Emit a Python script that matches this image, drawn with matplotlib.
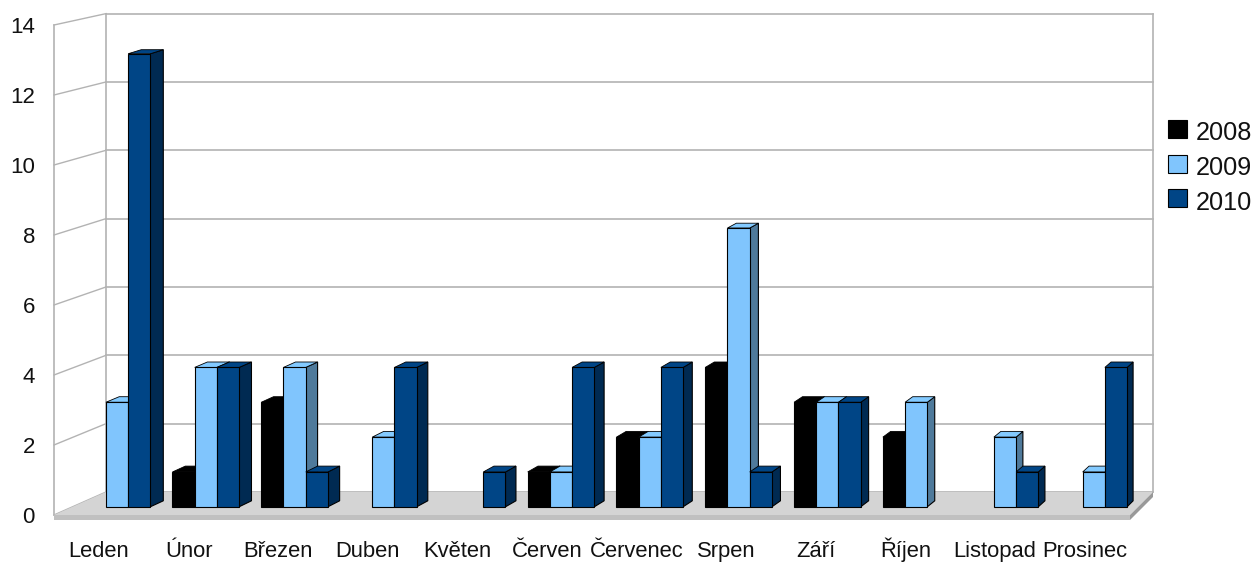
import matplotlib
matplotlib.use("Agg")
import matplotlib.pyplot as plt
from matplotlib.patches import Polygon

plt.rcParams['font.family'] = ['Liberation Sans', 'DejaVu Sans']

months = ["Leden", "Únor", "Březen", "Duben", "Květen", "Červen", "Červenec",
          "Srpen", "Září", "Říjen", "Listopad", "Prosinec"]
years = ["2008", "2009", "2010"]
v2008 = [0, 1, 3, 0, 0, 1, 2, 4, 3, 2, 0, 0]
v2009 = [3, 4, 4, 2, 0, 1, 2, 8, 3, 3, 2, 1]
v2010 = [13, 4, 1, 4, 1, 4, 4, 1, 3, 0, 1, 4]
y_ticks = [0, 2, 4, 6, 8, 10, 12, 14]

W, H = 1256, 563
X0, XU = 117.0, 88.8     # pixel of first group centre, pixels per category
Y0, YU = 506.8, 34.85    # pixel of value 0 on the bar front, pixels per unit

fig = plt.figure(figsize=(W / 100, H / 100), dpi=100)
ax = fig.add_axes([0, 0, 1, 1])
ax.set_xlim((0 - X0) / XU, (W - X0) / XU)
ax.set_ylim((Y0 - H) / YU, Y0 / YU)
ax.axis("off")

def dx(px):
    return px / XU

def dy(px):
    return px / YU

GRID = "#b3b3b3"
TEXT = "#111111"
x_left = dx(54 - X0)
x_back_l = dx(106 - X0)
x_back_r = dx(1153 - X0)
x_front_r = dx(1130 - X0)

def y_back(v):
    return dy(Y0 - 492) + v * 34.17 / YU

def y_side(v):
    return dy(Y0 - 515) + v * 35.0 / YU

# walls and grid
for v in y_ticks:
    ax.plot([x_back_l, x_back_r], [y_back(v), y_back(v)], color=GRID, lw=1.2, zorder=1)
    ax.plot([x_left, x_back_l], [y_side(v), y_back(v)], color=GRID, lw=1.0, zorder=1)
    ax.text(dx(35 - X0), y_side(v) - dy(8), str(v), ha="right", va="baseline",
            fontsize=16, color=TEXT, zorder=5)
for xx, fn in ((x_left, y_side), (x_back_l, y_back), (x_back_r, y_back)):
    ax.plot([xx, xx], [fn(0), fn(14)], color=GRID, lw=1.2, zorder=1)

# floor slab
t = dy(5)
ax.add_patch(Polygon([(x_left, y_side(0)), (x_back_l, y_back(0)), (x_back_r, y_back(0)),
                      (x_front_r, y_side(0))], closed=True, fc="#d4d4d4", ec="none", zorder=2))
ax.add_patch(Polygon([(x_left, y_side(0)), (x_front_r, y_side(0)),
                      (x_front_r, y_side(0) - t), (x_left, y_side(0) - t)],
                     closed=True, fc="#c0c0c0", ec="none", zorder=2))
ax.add_patch(Polygon([(x_front_r, y_side(0)), (x_back_r, y_back(0)),
                      (x_back_r, y_back(0) - t), (x_front_r, y_side(0) - t)],
                     closed=True, fc="#999999", ec="none", zorder=2))

# bars
series = [v2008, v2009, v2010]
faces = ["#000000", "#80c5fd", "#004586"]
sides = ["#000000", "#4f7a9b", "#002a52"]
tops = ["#000000", "#83caff", "#004586"]
bw = 22.2 / XU

def depth(x):
    # perspective: visible depth of a bar narrows towards the right
    px = x * XU + X0
    return dx(13 - 7 * (px - 151) / 976)

def back_h(v):
    # rise of the rear edge above the front edge shrinks slightly with height
    return dy(6 - v * 0.15)

z = 3.0
for i in range(len(months)):
    for j, vals in enumerate(series):
        v = vals[i]
        if v == 0:
            continue
        l = i + (j - 1) * bw - bw / 2
        r = l + bw
        dl, dr = depth(l), depth(r)
        ax.add_patch(Polygon([(r, 0), (r + dr, back_h(0)), (r + dr, v + back_h(v)), (r, v)],
                             closed=True, fc=sides[j], ec="black", lw=0.8, zorder=z))
        ax.add_patch(Polygon([(l, v), (l + dl, v + back_h(v)), (r + dr, v + back_h(v)), (r, v)],
                             closed=True, fc=tops[j], ec="black", lw=0.6, zorder=z))
        ax.bar(l, v, width=bw, align="edge", color=faces[j], edgecolor="black", lw=0.8, zorder=z + 0.1)
        z += 0.2

# category labels
for i, m in enumerate(months):
    ax.text(dx(99 + 89.6 * i - X0), dy(Y0 - 557), m, ha="center", va="baseline",
            fontsize=15.8, color=TEXT, zorder=50)

# legend
for j, y in enumerate(years):
    cy = dy(Y0 - (129 + 34.5 * j))
    h = dy(18)
    ax.bar(dx(1168 - X0), h, width=dx(19), bottom=cy - h / 2, align="edge",
           color=faces[j], edgecolor="black", lw=0.8, zorder=50)
    ax.text(dx(1196 - X0), dy(Y0 - (140 + 35 * j)), y, ha="left", va="baseline",
            fontsize=18.2, color=TEXT, zorder=50)

fig.savefig("out.png", dpi=100, facecolor="white")
